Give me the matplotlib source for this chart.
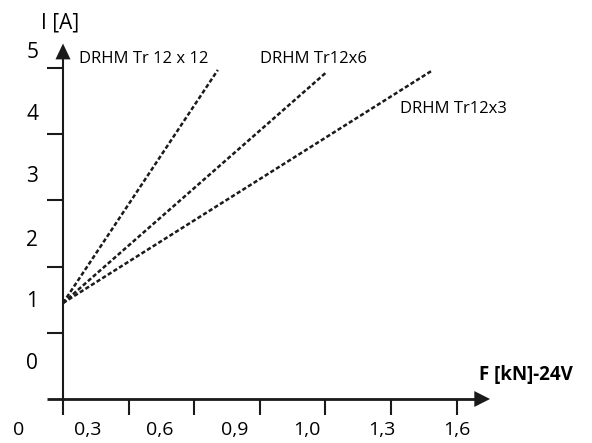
import matplotlib
matplotlib.use('Agg')
from matplotlib import pyplot as plt
from matplotlib.patches import Polygon

# chart units: one tick step on each axis = 1 unit
series = ['DRHM Tr 12 x 12', 'DRHM Tr12x6', 'DRHM Tr12x3']
x_start = [0.0, 0.0, 0.0]
y_start = [1.45, 1.45, 1.45]
x_end = [2.36, 4.02, 5.64]
y_end = [4.97, 4.94, 4.97]

# series label anchors (left edge, vertical centre)
label_x = [0.24, 3.0, 5.13]
label_y = [5.13, 5.13, 4.38]

# tick label texts and where they sit
x_labels = ['0', '0,3', '0,6', '0,9', '1,0', '1,3', '1,6']
x_label_pos = [-0.67, 0.37, 1.48, 2.61, 3.72, 4.86, 6.0]
y_labels = ['0', '1', '2', '3', '4', '5']
y_label_pos = [0.54, 1.47, 2.4, 3.36, 4.3, 5.24]
x_ticks = [0, 1, 2, 3, 4, 5, 6]
y_ticks = [0, 1, 2, 3, 4, 5]

plt.rcParams['font.family'] = ['Open Sans', 'DejaVu Sans']

fig = plt.figure(figsize=(5.92, 4.43), dpi=100)
ax = fig.add_axes([0, 0, 1, 1])
# pixel mapping: x0 at 63 px, 65.6 px per unit; y0 at 399 px, 66.2 px per unit
ax.set_xlim(-63 / 65.6, (592 - 63) / 65.6)
ax.set_ylim(-(443 - 399) / 66.2, 399 / 66.2)
ax.axis('off')

k = '#1a1a1a'
# axes
ax.plot([-0.24, 6.4], [0, 0], color=k, lw=2.0, solid_capstyle='butt')
ax.plot([0, 0], [-0.24, 5.25], color=k, lw=1.5, solid_capstyle='butt')
for t in x_ticks[1:]:
    ax.plot([t, t], [0, -0.24], color=k, lw=1.5, solid_capstyle='butt')
for t in y_ticks[1:]:
    ax.plot([-0.24, 0], [t, t], color=k, lw=1.5, solid_capstyle='butt')

# arrow heads
ax.add_patch(Polygon([[-0.115, 5.13], [0.115, 5.13], [0, 5.37]],
                     closed=True, color=k, lw=0))
ax.add_patch(Polygon([[6.27, 0.12], [6.27, -0.12], [6.51, 0]],
                     closed=True, color=k, lw=0))

# tick labels
for s, p in zip(x_labels, x_label_pos):
    ax.text(p, -0.47, s, ha='center', va='center', fontsize=14)
for s, p in zip(y_labels, y_label_pos):
    ax.text(-0.47, p, s, ha='center', va='center', fontsize=15)

# axis titles
ax.text(-0.05, 5.68, 'I [A]', ha='center', va='center', fontsize=15)
ax.text(7.06, 0.36, 'F [kN]-24V', ha='center', va='center', fontsize=13.5,
        fontweight='bold')

# series (dash pattern is in multiples of the line width)
for i in range(len(series)):
    ax.plot([x_start[i], x_end[i]], [y_start[i], y_end[i]], color=k,
            lw=1.8, dashes=(1.7, 0.95))
    ax.text(label_x[i], label_y[i], series[i], ha='left', va='center',
            fontsize=12)

fig.savefig('out.png', dpi=100)
